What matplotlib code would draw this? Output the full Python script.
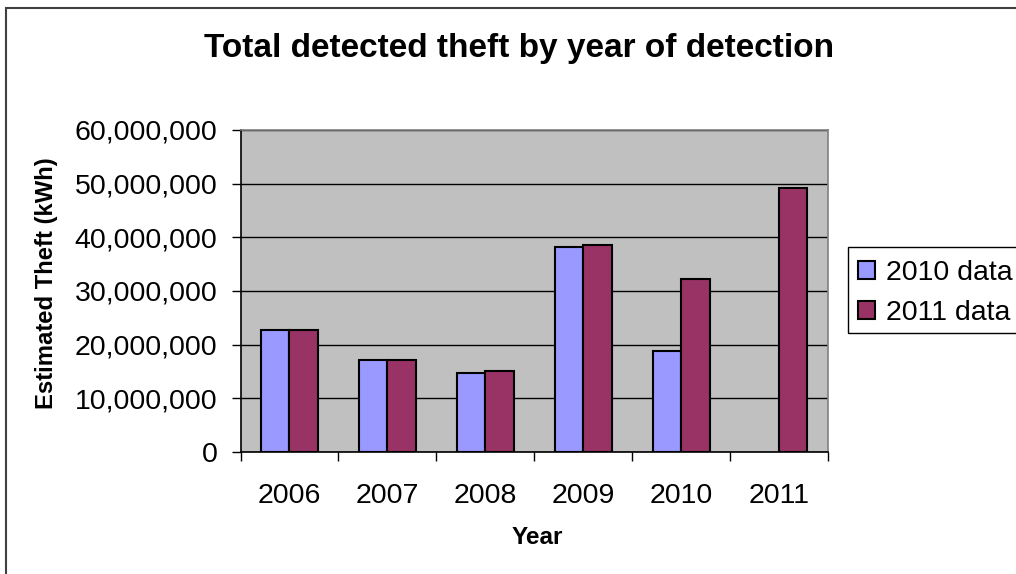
import numpy as np
import matplotlib
matplotlib.use('Agg')
import matplotlib.pyplot as plt
from matplotlib.ticker import FuncFormatter, FixedLocator
from matplotlib.patches import Rectangle

plt.rcParams['font.family'] = ['Liberation Sans', 'DejaVu Sans']

years = ['2006', '2007', '2008', '2009', '2010', '2011']
data_2010 = [22.75e6, 17.2e6, 14.7e6, 38.25e6, 18.85e6, np.nan]
data_2011 = [22.75e6, 17.2e6, 15.1e6, 38.6e6, 32.2e6, 49.2e6]

fig = plt.figure(figsize=(10.16, 5.74), dpi=100)
W, H = 1016, 574

# outer chart border (cut off at right and bottom like the original)
fig.patches.append(Rectangle((6 / W, -0.05), 1.1, 1 - 8 / H + 0.05,
                             transform=fig.transFigure, fill=False,
                             edgecolor='#404040', linewidth=1.5))
# legend box, also running off the right edge
fig.patches.append(Rectangle((848 / W, 1 - 333 / H), 0.3, 86 / H,
                             transform=fig.transFigure, fill=False,
                             edgecolor='black', linewidth=1))

ax = fig.add_axes([240.5 / W, 1 - 452 / H, 587.5 / W, 322 / H])
ax.set_facecolor('#C0C0C0')

x = np.arange(len(years))
bw = 0.29
ax.bar(x - bw / 2, data_2010, bw, color='#9999FF', edgecolor='black',
       linewidth=1.5, label='2010 data', zorder=3)
ax.bar(x + bw / 2, data_2011, bw, color='#993366', edgecolor='black',
       linewidth=1.5, label='2011 data', zorder=3)

ax.set_xlim(-0.5, 5.5)
ax.set_ylim(0, 60e6)
ax.set_yticks(np.arange(0, 60e6 + 1, 10e6))
ax.yaxis.set_major_formatter(FuncFormatter(lambda v, p: '{:,.0f}'.format(v)))
ax.yaxis.grid(True, color='black', linewidth=1, zorder=1)
ax.set_axisbelow(True)

ax.xaxis.set_major_locator(FixedLocator(np.arange(-0.5, 6, 1)))
ax.xaxis.set_minor_locator(FixedLocator(x))
ax.set_xticklabels([''] * 7)
ax.set_xticklabels(years, minor=True)
ax.tick_params(axis='x', which='major', length=6.5, width=1, direction='out',
               color='black')
ax.tick_params(axis='x', which='minor', length=0, pad=22, labelsize=20.5)
ax.tick_params(axis='y', length=6.5, width=1, direction='out', labelsize=20.5,
               pad=10)

for s in ['top', 'right']:
    ax.spines[s].set_color('#808080')
    ax.spines[s].set_linewidth(1.2)
for s in ['left', 'bottom']:
    ax.spines[s].set_color('black')
    ax.spines[s].set_linewidth(1.2)

ax.set_xlabel('Year', fontsize=17.5, fontweight='bold')
ax.xaxis.set_label_coords(537 / W, 1 - 537 / H, transform=fig.transFigure)
ax.xaxis.label.set_va('center')
ax.set_ylabel('Estimated Theft (kWh)', fontsize=17.2, fontweight='bold')
ax.yaxis.set_label_coords(47 / W, 1 - 283 / H, transform=fig.transFigure)
ax.yaxis.label.set_va('center')

fig.text(519 / W, 1 - 48 / H, 'Total detected theft by year of detection',
         ha='center', va='center', fontsize=24, fontweight='bold')

leg = fig.legend(loc='center left', bbox_to_anchor=(858 / W, 1 - 293 / H),
                 fontsize=20.5, frameon=False,
                 handlelength=0.6, handleheight=0.6, handletextpad=0.39,
                 borderpad=0, labelspacing=0.47, borderaxespad=0)

fig.savefig('out.png', dpi=100)
